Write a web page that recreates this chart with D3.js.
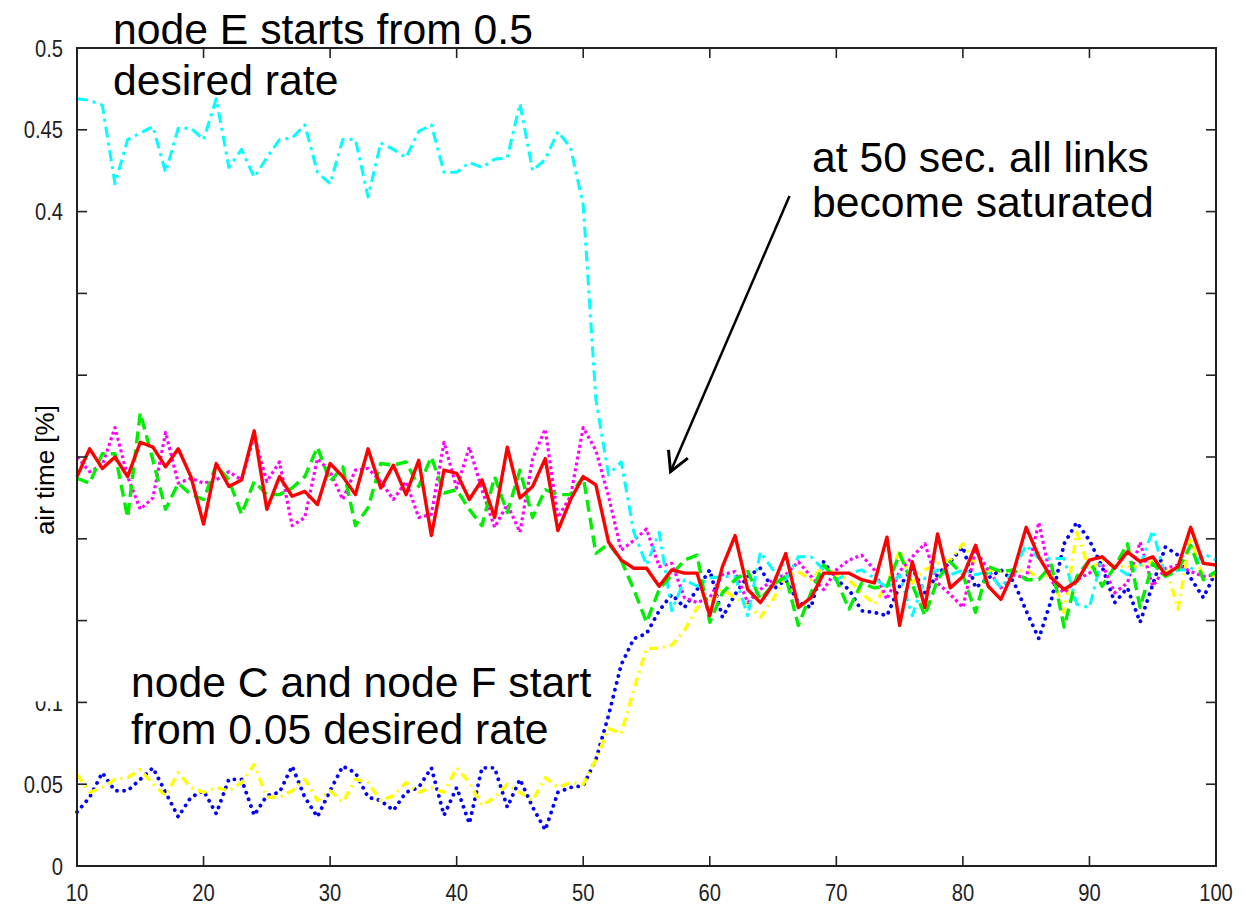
<!DOCTYPE html>
<html lang="en">
<head>
<meta charset="UTF-8">
<title>air time</title>
<script src="https://d3js.org/d3.v7.min.js"></script>
<style>
  body { margin: 0; background: #fff; }
  svg { display: block; font-family: "Liberation Sans", Arial, sans-serif; }
  .frame { fill: none; stroke: #222; stroke-width: 2; }
  .tick { stroke: #222; stroke-width: 1.6; }
  .tick-label { font-size: 23.5px; fill: #222; }
  .axis-title { font-size: 26px; fill: #000; }
  .note { font-size: 42.7px; fill: #000; }
  .series { fill: none; stroke-linejoin: round; }
</style>
</head>
<body>
<svg id="chart"></svg>
<script>
// time axis, one sample per second
const seconds = d3.range(10, 101);

const xTicks = [10, 20, 30, 40, 50, 60, 70, 80, 90, 100];
const yTicks = [0, 0.05, 0.1, 0.15, 0.2, 0.25, 0.3, 0.35, 0.4, 0.45, 0.5];
// labels that are visible in the original (the others are blanked out)
const yTickLabels = { 0: "0", 0.05: "0.05", 0.1: "0.1", 0.4: "0.4", 0.45: "0.45", 0.5: "0.5" };

const redRate = [
  0.238, 0.255, 0.243, 0.250, 0.238, 0.259, 0.256, 0.244, 0.255, 0.238,
  0.209, 0.246, 0.232, 0.236, 0.266, 0.218, 0.238, 0.226, 0.229, 0.221,
  0.246, 0.238, 0.227, 0.255, 0.231, 0.245, 0.227, 0.248, 0.202, 0.242,
  0.240, 0.224, 0.236, 0.213, 0.256, 0.225, 0.232, 0.249, 0.205, 0.224,
  0.238, 0.233, 0.198, 0.187, 0.182, 0.182, 0.171, 0.181, 0.179, 0.179,
  0.153, 0.183, 0.202, 0.169, 0.161, 0.172, 0.191, 0.158, 0.164, 0.179,
  0.179, 0.179, 0.175, 0.173, 0.201, 0.147, 0.186, 0.158, 0.203, 0.170,
  0.177, 0.196, 0.171, 0.163, 0.180, 0.207, 0.189, 0.176, 0.169, 0.174,
  0.187, 0.189, 0.182, 0.192, 0.186, 0.189, 0.178, 0.183, 0.207, 0.185,
  0.184
];

const greenRate = [
  0.237, 0.234, 0.252, 0.252, 0.213, 0.277, 0.248, 0.218, 0.234, 0.227,
  0.224, 0.245, 0.236, 0.215, 0.235, 0.227, 0.227, 0.231, 0.238, 0.256,
  0.235, 0.244, 0.208, 0.219, 0.246, 0.245, 0.247, 0.232, 0.250, 0.228,
  0.230, 0.218, 0.208, 0.238, 0.216, 0.242, 0.213, 0.230, 0.227, 0.227,
  0.238, 0.191, 0.197, 0.187, 0.169, 0.149, 0.169, 0.178, 0.187, 0.190,
  0.149, 0.167, 0.175, 0.180, 0.163, 0.172, 0.177, 0.147, 0.167, 0.184,
  0.175, 0.157, 0.173, 0.170, 0.171, 0.191, 0.172, 0.153, 0.175, 0.186,
  0.178, 0.155, 0.183, 0.180, 0.181, 0.175, 0.175, 0.184, 0.146, 0.177,
  0.187, 0.171, 0.183, 0.197, 0.158, 0.185, 0.177, 0.181, 0.196, 0.175,
  0.180
];

const magentaRate = [
  0.250, 0.241, 0.245, 0.268, 0.238, 0.218, 0.225, 0.265, 0.234, 0.237,
  0.234, 0.236, 0.241, 0.236, 0.263, 0.235, 0.247, 0.208, 0.213, 0.249,
  0.241, 0.224, 0.242, 0.243, 0.235, 0.224, 0.235, 0.213, 0.215, 0.259,
  0.231, 0.256, 0.230, 0.207, 0.221, 0.204, 0.249, 0.267, 0.213, 0.226,
  0.268, 0.254, 0.226, 0.193, 0.199, 0.206, 0.183, 0.185, 0.164, 0.161,
  0.164, 0.178, 0.180, 0.161, 0.169, 0.175, 0.178, 0.186, 0.177, 0.169,
  0.181, 0.187, 0.190, 0.181, 0.163, 0.180, 0.189, 0.197, 0.173, 0.166,
  0.158, 0.193, 0.181, 0.170, 0.178, 0.176, 0.210, 0.174, 0.167, 0.175,
  0.179, 0.185, 0.167, 0.173, 0.198, 0.171, 0.182, 0.184, 0.180, 0.177,
  0.178
];

// node E
const cyanRate = [
  0.469, 0.468, 0.465, 0.417, 0.444, 0.448, 0.452, 0.424, 0.451, 0.451,
  0.444, 0.469, 0.427, 0.438, 0.421, 0.433, 0.444, 0.445, 0.453, 0.424,
  0.417, 0.444, 0.444, 0.409, 0.442, 0.438, 0.433, 0.449, 0.453, 0.424,
  0.424, 0.430, 0.427, 0.432, 0.433, 0.466, 0.425, 0.432, 0.449, 0.439,
  0.404, 0.285, 0.239, 0.247, 0.204, 0.184, 0.204, 0.156, 0.175, 0.171,
  0.176, 0.177, 0.177, 0.153, 0.192, 0.181, 0.175, 0.189, 0.189, 0.181,
  0.175, 0.179, 0.181, 0.176, 0.170, 0.178, 0.153, 0.176, 0.181, 0.178,
  0.181, 0.178, 0.180, 0.170, 0.181, 0.196, 0.188, 0.188, 0.188, 0.160,
  0.158, 0.189, 0.183, 0.178, 0.184, 0.205, 0.177, 0.181, 0.181, 0.191,
  0.187
];

// node C
const blueRate = [
  0.033, 0.042, 0.057, 0.046, 0.046, 0.053, 0.060, 0.045, 0.030, 0.042,
  0.046, 0.032, 0.053, 0.053, 0.031, 0.043, 0.045, 0.061, 0.042, 0.030,
  0.046, 0.061, 0.057, 0.042, 0.040, 0.034, 0.045, 0.048, 0.060, 0.031,
  0.048, 0.026, 0.060, 0.060, 0.036, 0.053, 0.036, 0.022, 0.045, 0.048,
  0.049, 0.065, 0.092, 0.123, 0.139, 0.142, 0.156, 0.166, 0.158, 0.169,
  0.181, 0.152, 0.166, 0.177, 0.182, 0.169, 0.175, 0.161, 0.158, 0.186,
  0.175, 0.169, 0.156, 0.155, 0.153, 0.171, 0.182, 0.167, 0.178, 0.186,
  0.195, 0.170, 0.176, 0.181, 0.174, 0.156, 0.139, 0.163, 0.197, 0.210,
  0.199, 0.183, 0.161, 0.170, 0.149, 0.172, 0.195, 0.190, 0.176, 0.164,
  0.180
];

// node F
const yellowRate = [
  0.056, 0.045, 0.048, 0.053, 0.054, 0.059, 0.050, 0.043, 0.057, 0.048,
  0.045, 0.048, 0.046, 0.051, 0.062, 0.042, 0.042, 0.046, 0.053, 0.040,
  0.046, 0.039, 0.053, 0.051, 0.040, 0.043, 0.051, 0.045, 0.048, 0.045,
  0.060, 0.051, 0.037, 0.042, 0.050, 0.045, 0.040, 0.054, 0.048, 0.051,
  0.050, 0.065, 0.084, 0.081, 0.108, 0.133, 0.133, 0.135, 0.144, 0.158,
  0.161, 0.169, 0.164, 0.160, 0.152, 0.163, 0.177, 0.180, 0.175, 0.183,
  0.178, 0.175, 0.167, 0.160, 0.172, 0.193, 0.173, 0.181, 0.185, 0.187,
  0.197, 0.184, 0.181, 0.180, 0.180, 0.181, 0.176, 0.178, 0.155, 0.204,
  0.181, 0.187, 0.183, 0.183, 0.183, 0.186, 0.184, 0.157, 0.201, 0.175,
  0.178
];

const width = 1245, height = 905;
const margin = { top: 48, right: 29, bottom: 39, left: 77 };

const svg = d3.select("#chart")
  .attr("width", width)
  .attr("height", height);

const x = d3.scaleLinear().domain([10, 100]).range([margin.left, width - margin.right]);
const y = d3.scaleLinear().domain([0, 0.5]).range([height - margin.bottom, margin.top]);

// draw order and line styles
const series = [
  { values: blueRate,    color: "#0000ff", width: 3.8, dash: "0.1,7",    cap: "round" },
  { values: yellowRate,  color: "#ffff00", width: 3.4, dash: "9,5,2,5",  cap: "butt" },
  { values: magentaRate, color: "#ff00ff", width: 3.2, dash: "3,3",      cap: "butt" },
  { values: cyanRate,    color: "#00ffff", width: 3,   dash: "11,5,3,5", cap: "butt" },
  { values: greenRate,   color: "#00ee00", width: 3.4, dash: "12,6",     cap: "butt" },
  { values: redRate,     color: "#ff0000", width: 3.4, dash: null,       cap: "butt" }
];

const line = d3.line()
  .x((d, i) => x(seconds[i]))
  .y(d => y(d));

svg.append("g").selectAll("path")
  .data(series)
  .join("path")
  .attr("class", "series")
  .attr("d", d => line(d.values))
  .attr("stroke", d => d.color)
  .attr("stroke-width", d => d.width)
  .attr("stroke-linecap", d => d.cap)
  .attr("stroke-dasharray", d => d.dash);

// frame with inward ticks on all four sides
const tickLen = 10;
const [x0, x1] = x.range();
const [y0, y1] = y.range();
const ticks = svg.append("g");

// the original tick font is a narrow face, so squeeze it a little
function tickLabel(px, py, anchor, s) {
  ticks.append("text").attr("class", "tick-label")
    .attr("transform", `translate(${px},${py}) scale(0.86,1)`)
    .attr("text-anchor", anchor)
    .text(s);
}

xTicks.forEach(t => {
  ticks.append("line").attr("class", "tick")
    .attr("x1", x(t)).attr("x2", x(t)).attr("y1", y0).attr("y2", y0 - tickLen);
  ticks.append("line").attr("class", "tick")
    .attr("x1", x(t)).attr("x2", x(t)).attr("y1", y1).attr("y2", y1 + tickLen);
  tickLabel(x(t), y0 + 35, "middle", t);
});

yTicks.forEach(t => {
  ticks.append("line").attr("class", "tick")
    .attr("x1", x0).attr("x2", x0 + tickLen).attr("y1", y(t)).attr("y2", y(t));
  ticks.append("line").attr("class", "tick")
    .attr("x1", x1).attr("x2", x1 - tickLen).attr("y1", y(t)).attr("y2", y(t));
  const label = yTickLabels[t];
  if (label !== undefined) tickLabel(x0 - 14, y(t) + 8.5, "end", label);
});

// the "0.1" label is partly hidden behind the lower annotation box
svg.append("rect")
  .attr("x", 0).attr("y", y(0.1) - 40)
  .attr("width", x0 - 3).attr("height", 39)
  .attr("fill", "#fff");

svg.append("rect").attr("class", "frame")
  .attr("x", x0).attr("y", y1)
  .attr("width", x1 - x0).attr("height", y0 - y1);

svg.append("text").attr("class", "axis-title")
  .attr("transform", `translate(${x0 - 23},${y(0.242)}) rotate(-90)`)
  .attr("text-anchor", "middle")
  .text("air time [%]");

// annotations
function note(lines, px, py, lh) {
  const t = svg.append("text").attr("class", "note");
  lines.forEach((s, i) => {
    t.append("tspan").attr("x", px).attr("y", py + i * lh).text(s);
  });
}
note(["node E starts from 0.5", "desired rate"], 113, 44, 51);
note(["at 50 sec. all links", "become saturated"], 812, 172, 45);
note(["node C and node F start", "from 0.05 desired rate"], 131, 697, 47);

// arrow towards the point where the links saturate
const arrowFrom = [x(66.3), y(0.4095)];
const arrowTo = [x(56.9), y(0.241)];
svg.append("line")
  .attr("x1", arrowFrom[0]).attr("y1", arrowFrom[1])
  .attr("x2", arrowTo[0]).attr("y2", arrowTo[1])
  .attr("stroke", "#000").attr("stroke-width", 2.5);

const ang = Math.atan2(arrowTo[1] - arrowFrom[1], arrowTo[0] - arrowFrom[0]);
const headLen = 22, spread = 0.5;
const head = [ang + Math.PI - spread, ang + Math.PI + spread].map(a =>
  [arrowTo[0] + headLen * Math.cos(a), arrowTo[1] + headLen * Math.sin(a)]);
svg.append("path")
  .attr("d", `M${head[0]}L${arrowTo}L${head[1]}`)
  .attr("fill", "none")
  .attr("stroke", "#000")
  .attr("stroke-width", 3)
  .attr("stroke-linejoin", "miter");
</script>
</body>
</html>
